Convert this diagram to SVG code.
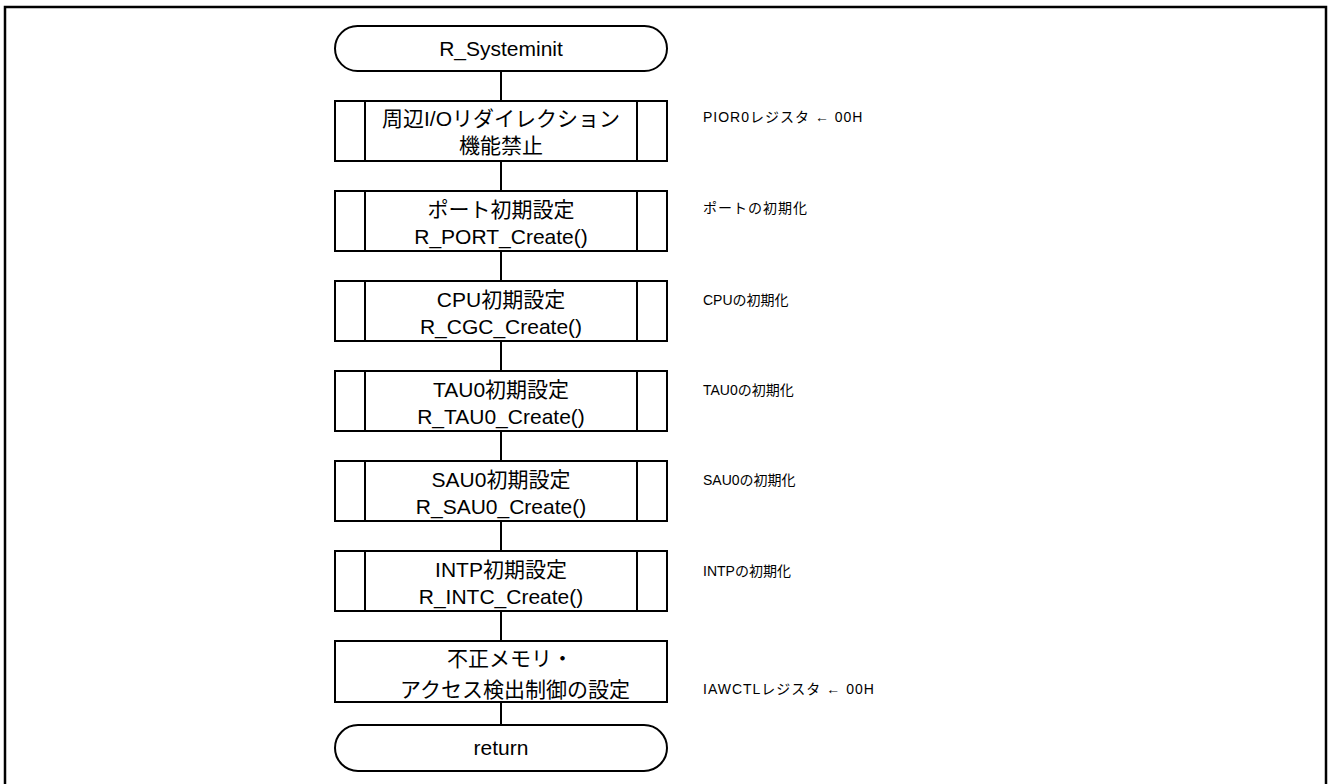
<svg xmlns="http://www.w3.org/2000/svg" width="1328" height="784" viewBox="0 0 1328 784">
<style>
.s{fill:#fff;stroke:#000;stroke-width:2}
.l{stroke:#000;stroke-width:2;fill:none}
.t{font-family:"Liberation Sans","Noto Sans CJK JP",sans-serif;font-size:21px;fill:#000;text-anchor:middle}
.a{font-family:"Liberation Sans","Noto Sans CJK JP",sans-serif;font-size:14px;fill:#000}
.w{letter-spacing:1px}
</style>
<rect x="0" y="0" width="1328" height="784" fill="#fff"/>
<rect x="5" y="7" width="1321" height="782" fill="none" stroke="#000" stroke-width="2.5"/>
<g id="connectors">
<path class="l" d="M501 71V101M501 161V191M501 251V281M501 341V371M501 431V461M501 521V551M501 611V641M501 702V725"/>
</g>
<g id="start">
<rect class="s" x="335" y="26" width="332" height="45" rx="22.5"/>
<text class="t" x="501" y="56">R_Systeminit</text>
</g>
<g id="n1">
<rect class="s" x="335" y="101" width="332" height="60"/>
<path class="l" d="M365 101V161M637 101V161"/>
<text class="t" x="501" y="126">周辺I/Oリダイレクション</text>
<text class="t" x="501" y="153">機能禁止</text>
<text class="a w" x="703" y="122">PIOR0レジスタ ← 00H</text>
</g>
<g id="n2">
<rect class="s" x="335" y="191" width="332" height="60"/>
<path class="l" d="M365 191V251M637 191V251"/>
<text class="t" x="501" y="217">ポート初期設定</text>
<text class="t" x="501" y="244">R_PORT_Create()</text>
<text class="a w" x="703" y="213">ポートの初期化</text>
</g>
<g id="n3">
<rect class="s" x="335" y="281" width="332" height="60"/>
<path class="l" d="M365 281V341M637 281V341"/>
<text class="t" x="501" y="307">CPU初期設定</text>
<text class="t" x="501" y="334">R_CGC_Create()</text>
<text class="a" x="703" y="305">CPUの初期化</text>
</g>
<g id="n4">
<rect class="s" x="335" y="371" width="332" height="60"/>
<path class="l" d="M365 371V431M637 371V431"/>
<text class="t" x="501" y="397">TAU0初期設定</text>
<text class="t" x="501" y="424">R_TAU0_Create()</text>
<text class="a" x="703" y="395">TAU0の初期化</text>
</g>
<g id="n5">
<rect class="s" x="335" y="461" width="332" height="60"/>
<path class="l" d="M365 461V521M637 461V521"/>
<text class="t" x="501" y="487">SAU0初期設定</text>
<text class="t" x="501" y="514">R_SAU0_Create()</text>
<text class="a" x="703" y="485">SAU0の初期化</text>
</g>
<g id="n6">
<rect class="s" x="335" y="551" width="332" height="60"/>
<path class="l" d="M365 551V611M637 551V611"/>
<text class="t" x="501" y="577">INTP初期設定</text>
<text class="t" x="501" y="604">R_INTC_Create()</text>
<text class="a" x="703" y="576">INTPの初期化</text>
</g>
<g id="n7">
<rect class="s" x="335" y="641" width="332" height="61"/>
<text class="t" x="510" y="666">不正メモリ・</text>
<text class="t" x="515" y="697">アクセス検出制御の設定</text>
<text class="a w" x="703" y="694">IAWCTLレジスタ ← 00H</text>
</g>
<g id="end">
<rect class="s" x="335" y="725" width="332" height="46" rx="23"/>
<text class="t" x="501" y="755">return</text>
</g>
</svg>
